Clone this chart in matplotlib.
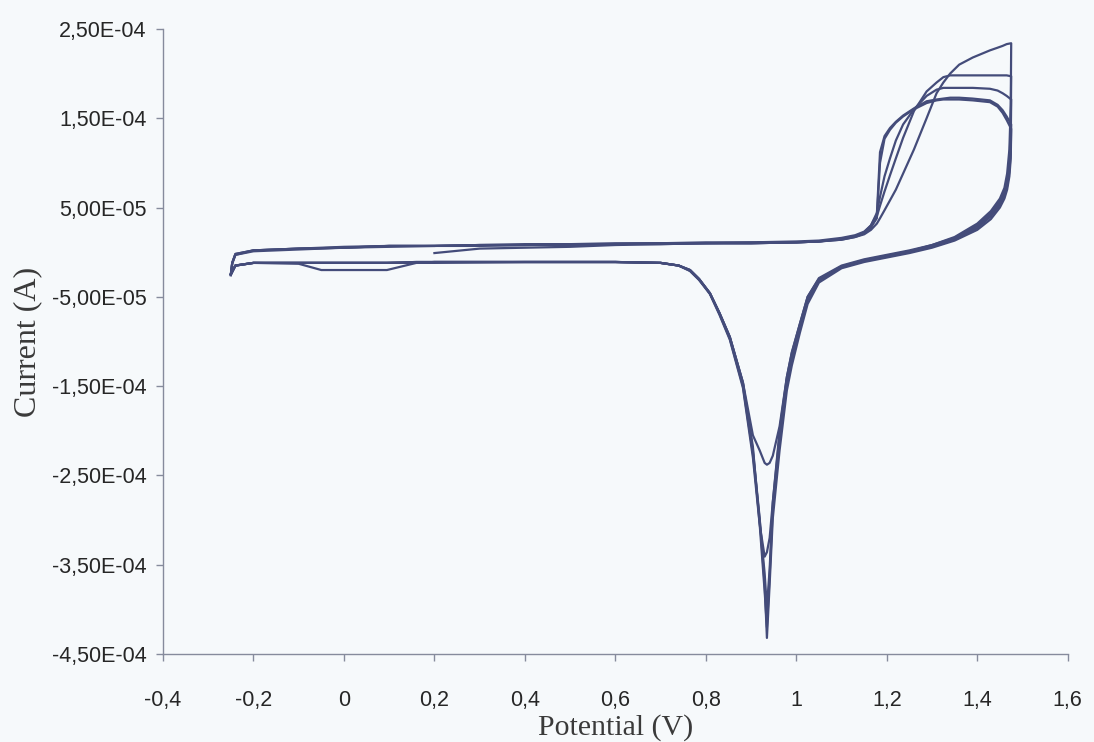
import matplotlib
matplotlib.use("Agg")
import matplotlib.pyplot as plt
import numpy as np

nan = np.nan

# potential grid of the anodic (forward) sweep, V
potential_fwd = [-0.25, -0.247, -0.24, -0.2, -0.1, 0.0, 0.1, 0.2, 0.3, 0.4,
                 0.5, 0.6, 0.7, 0.8, 0.9, 1.0, 1.05, 1.1, 1.13, 1.15,
                 1.165, 1.178, 1.185, 1.195, 1.207, 1.22, 1.236, 1.26, 1.288, 1.31,
                 1.325, 1.34, 1.36, 1.39, 1.428, 1.445, 1.456, 1.465, 1.475]

# potential grid of the cathodic (reverse) sweep, V
potential_rev = [1.475, 1.474, 1.471, 1.466, 1.46, 1.45, 1.43, 1.40, 1.35, 1.30,
                 1.25, 1.20, 1.15, 1.10, 1.05, 1.025, 1.008, 0.99, 0.979, 0.963,
                 0.948, 0.941, 0.935, 0.93, 0.919, 0.904, 0.882, 0.853, 0.83, 0.809,
                 0.785, 0.765, 0.74, 0.7, 0.6, 0.4, 0.2, 0.16, 0.095, 0.0,
                 -0.05, -0.1, -0.2, -0.24, -0.25]

# currents in microampere
cycle1_fwd = [nan, nan, nan, nan, nan, nan, nan, -1, 4, 5,
              6, 8, 9, 10, 10, 11, 12, 14, 17, 20,
              25, 32, 38, 47, 58, 70, 88, 115, 150, 178,
              190, 200, 210, 218, 226, 229, 231, 233, 234]
cycle1_rev = [234, 165, 115, 88, 72, 60, 46, 32, 17, 8,
              2, -3, -8, -15, -29, -50, -80, -112, -140, -195,
              -228, -236, -238, -236, -222, -205, -146, -95, -68, -46,
              -30, -20, -15, -12, -11, -11, -11, -12, -12, -12,
              -12, -12, -12, -15, -25]

cycle2_fwd = [-24, -12, -3, 2, 4, 5, 7, 7, 8, 8,
              9, 9, 10, 10, 11, 11, 12, 15, 18, 22,
              28, 40, 52, 68, 86, 105, 128, 158, 180, 190,
              196, 198, 198, 198, 198, 198, 198, 198, 197]
cycle2_rev = [197, 140, 100, 80, 68, 57, 44, 30, 16, 8,
              1, -4, -9, -16, -30, -50, -80, -113, -140, -200,
              -280, -320, -336, -341, -305, -218, -146, -95, -68, -46,
              -30, -20, -15, -12, -11, -11, -11, -11, -12, -12,
              -12, -12, -12, -15, -25]

cycle3_fwd = [-25, -12, -2, 2, 4, 6, 7, 7, 8, 9,
              9, 10, 10, 11, 11, 12, 13, 16, 19, 23,
              30, 44, 62, 85, 105, 125, 143, 160, 175, 182,
              184, 184, 184, 184, 183, 181, 178, 175, 171]
cycle3_rev = [171, 125, 95, 77, 66, 55, 42, 29, 15, 7,
              1, -4, -9, -16, -31, -52, -82, -116, -143, -205,
              -280, -355, -398, -360, -300, -225, -150, -97, -69, -46,
              -31, -21, -15, -12, -11, -11, -11, -12, -12, -12,
              -12, -12, -12, -15, -25]

cycle4_fwd = [-25, -12, -2, 2, 4, 5, 7, 7, 8, 8,
              9, 9, 10, 10, 10, 11, 12, 15, 18, 22,
              30, 42, 112, 130, 139, 146, 153, 161, 169, 171,
              172, 173, 173, 172, 170, 165, 159, 152, 143]
cycle4_rev = [143, 112, 90, 74, 63, 53, 40, 27, 14, 6,
              0, -5, -10, -17, -32, -54, -85, -120, -148, -212,
              -288, -362, -420, -380, -305, -230, -152, -98, -70, -47,
              -31, -21, -15, -12, -11, -11, -11, -11, -12, -12,
              -12, -12, -12, -15, -24]

cycle5_fwd = [-26, -13, -3, 1, 3, 5, 6, 7, 7, 8,
              8, 9, 9, 10, 10, 11, 12, 14, 17, 21,
              28, 38, 100, 127, 137, 145, 152, 160, 167, 170,
              171, 171, 171, 170, 168, 163, 156, 148, 138]
cycle5_rev = [138, 105, 85, 70, 60, 50, 37, 25, 13, 5,
              -1, -6, -11, -18, -34, -58, -90, -127, -155, -222,
              -298, -372, -432, -372, -298, -222, -147, -95, -68, -46,
              -30, -20, -15, -12, -11, -11, -12, -12, -20, -20,
              -20, -13, -12, -15, -25]

x_ticks = [-0.4, -0.2, 0, 0.2, 0.4, 0.6, 0.8, 1, 1.2, 1.4, 1.6]
x_tick_labels = ["-0,4", "-0,2", "0", "0,2", "0,4", "0,6", "0,8", "1", "1,2", "1,4", "1,6"]
y_ticks = [2.5e-4, 1.5e-4, 5e-5, -5e-5, -1.5e-4, -2.5e-4, -3.5e-4, -4.5e-4]
y_tick_labels = ["2,50E-04", "1,50E-04", "5,00E-05", "-5,00E-05",
                 "-1,50E-04", "-2,50E-04", "-3,50E-04", "-4,50E-04"]

bg = "#f6f9fb"
line_col = "#444c7a"
axis_col = "#868b9c"

fig = plt.figure(figsize=(10.94, 7.42), dpi=100, facecolor=bg)
ax = fig.add_axes([0.149, 0.1186, 0.827, 0.8424], facecolor=bg)

cycles = [(cycle1_fwd, cycle1_rev), (cycle2_fwd, cycle2_rev), (cycle3_fwd, cycle3_rev),
          (cycle4_fwd, cycle4_rev), (cycle5_fwd, cycle5_rev)]
for fwd, rev in cycles:
    e = potential_fwd + potential_rev
    i = np.array(fwd + rev, dtype=float) * 1e-6
    ax.plot(e, i, color=line_col, lw=1.6, solid_joinstyle="round")

ax.set_xlim(-0.4, 1.6)
ax.set_ylim(-4.5e-4, 2.5e-4)

ax.spines["top"].set_visible(False)
ax.spines["right"].set_visible(False)
for s in ["left", "bottom"]:
    ax.spines[s].set_color(axis_col)
    ax.spines[s].set_linewidth(1.0)

ax.set_xticks(x_ticks)
ax.set_xticklabels(x_tick_labels, fontfamily="Liberation Sans", fontsize=15.5, color="#262626")
ax.set_yticks(y_ticks)
ax.set_yticklabels(y_tick_labels, fontfamily="Liberation Sans", fontsize=15.5, color="#262626")
ax.tick_params(axis="x", direction="out", length=5, width=1, color=axis_col, pad=21)
ax.tick_params(axis="y", direction="out", length=5, width=1, color=axis_col, pad=7)

ax.set_xlabel("Potential (V)", fontfamily="Liberation Serif", fontsize=21.5, color="#3a3a3a", va="center")
ax.xaxis.set_label_coords(0.5006, -0.1184)
ax.set_ylabel("Current (A)", fontfamily="Liberation Serif", fontsize=23, color="#3a3a3a", va="center")
ax.yaxis.set_label_coords(-0.150, 0.5)

fig.savefig("out.png", dpi=100, facecolor=bg)
